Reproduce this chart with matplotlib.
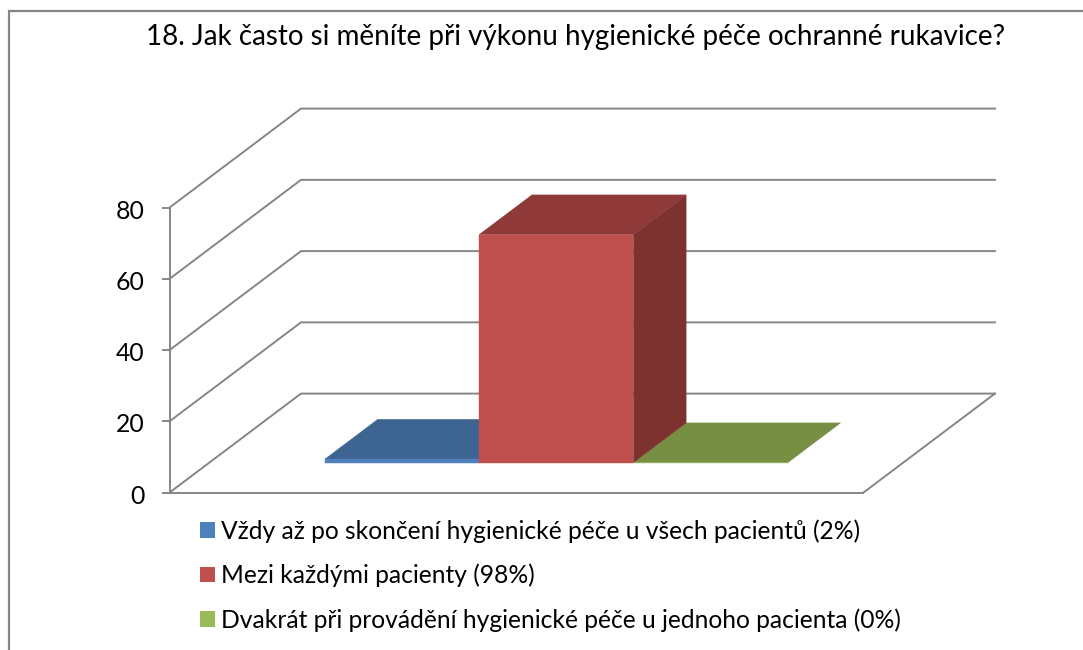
import matplotlib
matplotlib.use("Agg")
import matplotlib.pyplot as plt
from matplotlib.patches import Patch, Polygon, Rectangle
from matplotlib.transforms import ScaledTranslation

plt.rcParams['font.family'] = ['Lato', 'DejaVu Sans']

title = "18. Jak často si měníte při výkonu hygienické péče ochranné rukavice?"
labels = ["Vždy až po skončení hygienické péče u všech pacientů (2%)",
          "Mezi každými pacienty (98%)",
          "Dvakrát při provádění hygienické péče u jednoho pacienta (0%)"]
values = [1, 64, 0]
y_ticks = [0, 20, 40, 60, 80]
front_colors = ["#4F81BD", "#C0504D", "#9BBB59"]
top_colors = ["#3E6491", "#8F3A38", "#778F43"]
side_colors = ["#335273", "#7D3230", "#5F7335"]

W, H = 1083, 650
GRID = "#868686"
fig = plt.figure(figsize=(W / 100, H / 100), dpi=100, facecolor="white")

# outer chart frame (runs off the right and bottom of the picture)
fig.add_artist(Rectangle((9 / W, -0.1), 1.2, 1.1 - 11 / H, transform=fig.transFigure,
                         fill=False, ec=GRID, lw=1.6))

L, R, B, T = 169.5, 996, 492.6, 107
ax = fig.add_axes([L / W, 1 - B / H, (R - L) / W, (B - T) / H])
PX_X, PX_Y = 154.2, 3.5625
ax.set_xlim(-0.75, -0.75 + (R - L) / PX_X)
ax.set_ylim(0, (B - T) / PX_Y)
ax.patch.set_alpha(0)

DX, DY = 131.5 / PX_X, 99 / PX_Y   # oblique depth vector
FLOOR_END = 3.75
D0, D1 = 0.303, 0.704              # bar depth range


def proj(x, y, d):
    return (x + d * DX, y + d * DY)


for v in y_ticks:
    xs, ys = zip(proj(-0.75, v, 0), proj(-0.75, v, 1), proj(FLOOR_END, v, 1))
    ax.plot(xs, ys, color=GRID, lw=1.4, zorder=1, clip_on=False, solid_joinstyle="miter")
xs, ys = zip(proj(FLOOR_END, 0, 0), proj(FLOOR_END, 0, 1))
ax.plot(xs, ys, color=GRID, lw=1.4, zorder=1, clip_on=False)


def bar(i, v, z):
    x0, x1 = i, i + 1
    top = [proj(x0, v, D0), proj(x1, v, D0), proj(x1, v, D1), proj(x0, v, D1)]
    side = [proj(x1, 0, D0), proj(x1, v, D0), proj(x1, v, D1), proj(x1, 0, D1)]
    front = [proj(x0, 0, D0), proj(x1, 0, D0), proj(x1, v, D0), proj(x0, v, D0)]
    for pts, c in ((side, side_colors[i]), (top, top_colors[i]), (front, front_colors[i])):
        ax.add_patch(Polygon(pts, closed=True, fc=c, ec=c, lw=0.3, zorder=z))


for i, z in zip((0, 2, 1), (2, 3, 4)):
    bar(i, values[i], z)

for s in ("top", "right"):
    ax.spines[s].set_visible(False)
ax.spines["left"].set_bounds(0, 80)
ax.spines["bottom"].set_bounds(-0.75, FLOOR_END)
for s in ("left", "bottom"):
    ax.spines[s].set_color(GRID)
    ax.spines[s].set_linewidth(1.4)
ax.set_xticks([])
ax.set_yticks(y_ticks)
ax.tick_params(axis="y", length=5.8, width=1.4, color=GRID, labelsize=17.8, pad=12, labelcolor="black")
shift = ScaledTranslation(0, -1.5 / 100, fig.dpi_scale_trans)
for lab in ax.get_yticklabels():
    lab.set_transform(lab.get_transform() + shift)

fig.text(575.5 / W, 1 - 45 / H, title, ha="center", va="baseline", fontsize=19.95, color="black")

handles = [Patch(fc=c, ec="none") for c in front_colors]
fig.legend(handles, labels, loc="upper left", bbox_to_anchor=(200 / W, 1 - 519 / H),
           borderaxespad=0, borderpad=0, frameon=False, fontsize=17.7,
           handlelength=0.61, handleheight=0.61, handletextpad=0.25, labelspacing=0.85)

fig.savefig("out.png", dpi=100, facecolor="white")
